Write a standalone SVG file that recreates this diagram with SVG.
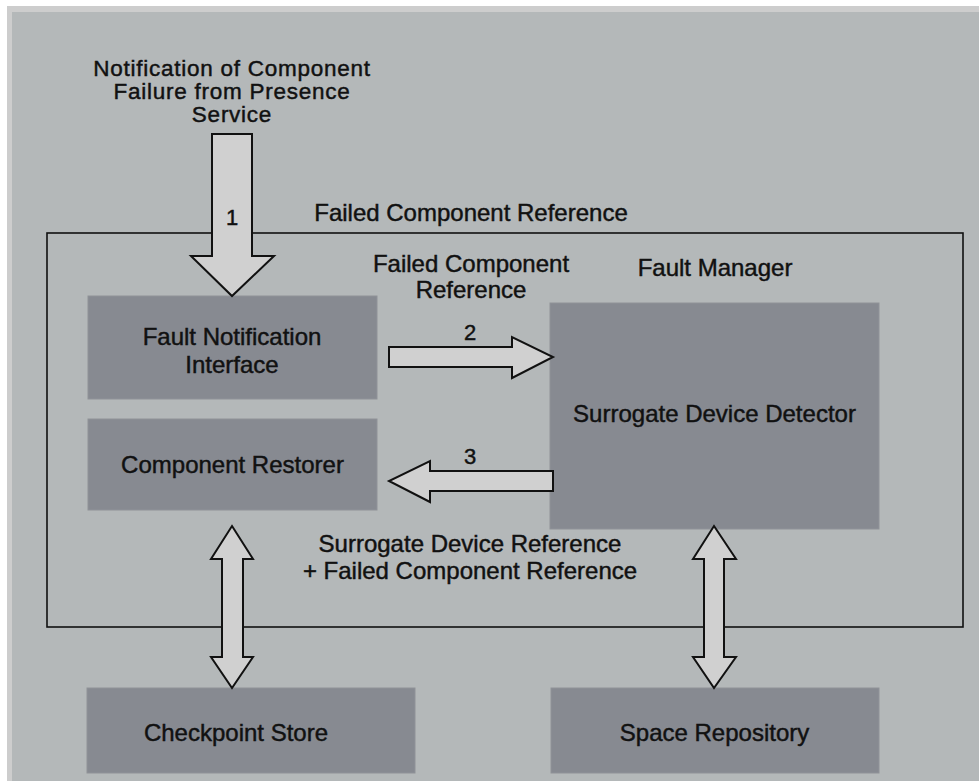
<svg xmlns="http://www.w3.org/2000/svg" width="979" height="781" viewBox="0 0 979 781">
  <style>
    text { font-family: "Liberation Sans", Arial, sans-serif; font-size: 24px; fill: #111; stroke: #111; stroke-width: 0.45; text-anchor: middle; }
    .num { font-size: 22px; }
    .tight { font-size: 22.5px; letter-spacing: 0.75px; }
    .box { fill: #878a91; stroke: #8f9298; stroke-width: 1; }
    .block { fill: #d0d0d0; stroke: #111; stroke-width: 2; stroke-linejoin: miter; }
    .frame { fill: none; stroke: #111; stroke-width: 1.6; }
  </style>

  <!-- backdrop -->
  <rect x="0" y="0" width="979" height="781" fill="#ffffff"/>
  <rect x="7" y="6" width="972" height="775" fill="#cdcdcd"/>
  <rect x="12" y="12" width="967" height="769" fill="#b4b8b9"/>

  <!-- Fault Manager boundary -->
  <g id="fault-manager">
    <rect class="frame" x="47" y="233" width="916" height="394"/>
    <text x="715" y="276">Fault Manager</text>
  </g>

  <text x="471" y="221">Failed Component Reference</text>

  <g id="fault-notification-interface">
    <rect class="box" x="88" y="296" width="289" height="103"/>
    <text x="232" y="345">Fault Notification</text>
    <text x="232" y="373">Interface</text>
  </g>

  <g id="component-restorer">
    <rect class="box" x="88" y="419" width="289" height="91"/>
    <text x="232.5" y="473">Component Restorer</text>
  </g>

  <g id="surrogate-device-detector">
    <rect class="box" x="550" y="303" width="329" height="226"/>
    <text x="714.5" y="422">Surrogate Device Detector</text>
  </g>

  <g id="checkpoint-store">
    <rect class="box" x="87" y="688" width="328" height="85"/>
    <text x="236" y="741">Checkpoint Store</text>
  </g>

  <g id="space-repository">
    <rect class="box" x="551" y="688" width="328" height="85"/>
    <text x="714.5" y="741">Space Repository</text>
  </g>

  <!-- connectors -->
  <g id="connectors">
    <!-- 1: notification into the interface -->
    <polygon class="block" points="212,134 252,134 252,256 274,256 232,296 191,256 212,256"/>
    <!-- 2: interface to detector -->
    <polygon class="block" points="389,347 512,347 512,337 553,357 512,378 512,367 389,367"/>
    <!-- 3: detector back to restorer -->
    <polygon class="block" points="553,471 430,471 430,461 389,481 430,502 430,491 553,491"/>
    <!-- restorer <-> checkpoint store -->
    <polygon class="block" points="232,526 253,559 243,559 243,657 253,657 232,688 211,657 222,657 222,559 211,559"/>
    <!-- detector <-> space repository -->
    <polygon class="block" points="714,526 736,559 724,559 724,657 736,657 714,688 693,657 704,657 704,559 693,559"/>
  </g>

  <!-- labels -->
  <text class="tight" x="232" y="76">Notification of Component</text>
  <text class="tight" x="232" y="99">Failure from Presence</text>
  <text class="tight" x="232" y="122">Service</text>
  <text class="num" x="232" y="225">1</text>

  <text x="471" y="272">Failed Component</text>
  <text x="471" y="298">Reference</text>
  <text class="num" x="470" y="340">2</text>
  <text class="num" x="470" y="464">3</text>

  <text x="470" y="552">Surrogate Device Reference</text>
  <text x="470" y="579">+ Failed Component Reference</text>
</svg>
